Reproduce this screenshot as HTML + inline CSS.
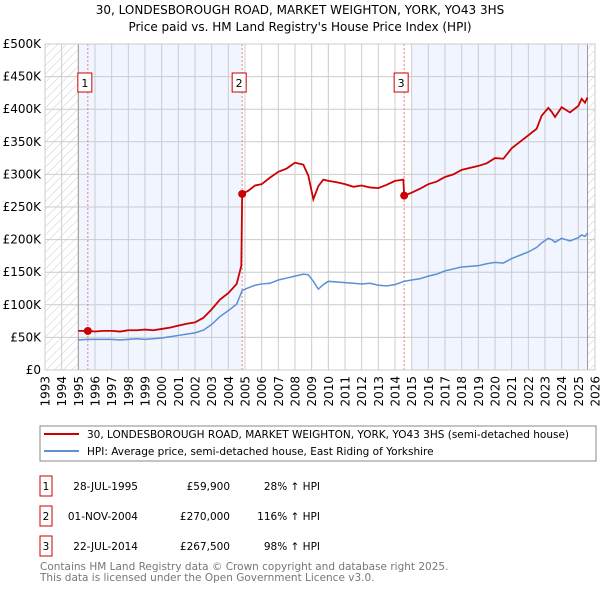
<!DOCTYPE html>
<html><head><meta charset="utf-8">
<style>
body{margin:0;background:#fff;font-family:"DejaVu Sans","Liberation Sans",sans-serif;}
svg text{font-family:"DejaVu Sans","Liberation Sans",sans-serif;}
</style></head>
<body>
<svg width="600" height="590" viewBox="0 0 600 590" xmlns="http://www.w3.org/2000/svg">
<defs>
<pattern id="hatch" width="6" height="6" patternUnits="userSpaceOnUse" patternTransform="rotate(45)">
<line x1="0" y1="0" x2="0" y2="6" stroke="#ccc" stroke-width="1"/>
</pattern>
</defs>
<text x="300" y="14" font-size="12" text-anchor="middle" fill="#000">30, LONDESBOROUGH ROAD, MARKET WEIGHTON, YORK, YO43 3HS</text>
<text x="300" y="31" font-size="12" text-anchor="middle" fill="#000">Price paid vs. HM Land Registry's House Price Index (HPI)</text>
<g id="plot"></g>
<g>
<rect x="40" y="426" width="556" height="35" fill="#fff" stroke="#888"/>
<line x1="44" y1="434" x2="79" y2="434" stroke="#cc0000" stroke-width="2"/>
<text x="87" y="438" font-size="10.5">30, LONDESBOROUGH ROAD, MARKET WEIGHTON, YORK, YO43 3HS (semi-detached house)</text>
<line x1="44" y1="451" x2="79" y2="451" stroke="#5b8fd6" stroke-width="2"/>
<text x="87" y="455" font-size="10.5">HPI: Average price, semi-detached house, East Riding of Yorkshire</text>
</g>
<g font-size="10.5">
<rect x="40" y="476" width="12" height="20" fill="#fff" stroke="#cc0000"/><text x="46" y="490" text-anchor="middle">1</text>
<text x="138" y="490" text-anchor="end">28-JUL-1995</text><text x="230" y="490" text-anchor="end">£59,900</text><text x="320" y="490" text-anchor="end">28% ↑ HPI</text>
<rect x="40" y="506" width="12" height="20" fill="#fff" stroke="#cc0000"/><text x="46" y="520" text-anchor="middle">2</text>
<text x="138" y="520" text-anchor="end">01-NOV-2004</text><text x="230" y="520" text-anchor="end">£270,000</text><text x="320" y="520" text-anchor="end">116% ↑ HPI</text>
<rect x="40" y="536" width="12" height="20" fill="#fff" stroke="#cc0000"/><text x="46" y="550" text-anchor="middle">3</text>
<text x="138" y="550" text-anchor="end">22-JUL-2014</text><text x="230" y="550" text-anchor="end">£267,500</text><text x="320" y="550" text-anchor="end">98% ↑ HPI</text>
</g>
<text x="40" y="570" font-size="10.5" fill="#777">Contains HM Land Registry data © Crown copyright and database right 2025.</text>
<text x="40" y="581" font-size="10.5" fill="#777">This data is licensed under the Open Government Licence v3.0.</text>
</svg>
<script>
const yTicks=[0,50,100,150,200,250,300,350,400,450,500];
const yTickLabels=["£0","£50K","£100K","£150K","£200K","£250K","£300K","£350K","£400K","£450K","£500K"];
const xYears=[1993,1994,1995,1996,1997,1998,1999,2000,2001,2002,2003,2004,2005,2006,2007,2008,2009,2010,2011,2012,2013,2014,2015,2016,2017,2018,2019,2020,2021,2022,2023,2024,2025,2026];
const hpiYears=[1995,1995.5,1996,1996.5,1997,1997.5,1998,1998.5,1999,1999.5,2000,2000.5,2001,2001.5,2002,2002.5,2003,2003.5,2004,2004.5,2004.83,2005.2,2005.6,2006,2006.5,2007,2007.5,2008,2008.5,2008.8,2009.1,2009.4,2009.7,2010,2010.5,2011,2011.5,2012,2012.5,2013,2013.5,2014,2014.55,2015,2015.5,2016,2016.5,2017,2017.5,2018,2018.5,2019,2019.5,2020,2020.5,2021,2021.5,2022,2022.5,2022.8,2023.2,2023.4,2023.6,2024,2024.5,2025,2025.2,2025.4,2025.55];
const hpiVals=[46,47,47,47,47,46,47,48,47,48,49,51,53,55,57,61,70,82,91,101,122,126,130,132,133,138,141,144,147,146,136,124,131,136,135,134,133,132,133,130,129,131,136,138,140,144,147,152,155,158,159,160,163,165,164,171,176,181,188,195,202,200,196,202,198,203,207,205,210];
const redYears=[1995,1995.57,1996,1996.5,1997,1997.5,1998,1998.5,1999,1999.5,2000,2000.5,2001,2001.5,2002,2002.5,2003,2003.5,2004,2004.5,2004.78,2004.83,2005.2,2005.6,2006,2006.5,2007,2007.5,2008,2008.5,2008.8,2009.1,2009.4,2009.7,2010,2010.5,2011,2011.5,2012,2012.5,2013,2013.5,2014,2014.5,2014.55,2015,2015.5,2016,2016.5,2017,2017.5,2018,2018.5,2019,2019.5,2020,2020.5,2021,2021.5,2022,2022.5,2022.8,2023.2,2023.4,2023.6,2024,2024.5,2025,2025.2,2025.4,2025.55];
const redVals=[60,59.9,59,60,60,59,61,61,62,61,63,65,68,71,73,80,93,108,118,132,160,270,275,283,285,295,304,309,318,315,298,262,282,292,290,288,285,281,283,280,279,284,290,292,267.5,272,278,285,289,296,300,307,310,313,317,325,324,340,350,360,370,390,402,396,388,403,395,405,416,410,418];
const sales=[{x:1995.57,v:59.9,n:"1"},{x:2004.83,v:270,n:"2"},{x:2014.55,v:267.5,n:"3"}];
const L=45,R=595,T=44,B=370;
const X=y=>L+(y-1993)*(R-L)/33;
const Y=v=>B-v*(B-T)/500;
const NS="http://www.w3.org/2000/svg";
const g=document.getElementById('plot');
function mk(t,a){const e=document.createElementNS(NS,t);for(const k in a)e.setAttribute(k,a[k]);g.appendChild(e);return e;}
let e;
e=mk('rect',{x:X(1995),y:T,width:X(2004.83)-X(1995),height:B-T,fill:'#f0f5ff'});


e=mk('rect',{x:X(2015),y:T,width:X(2025.55)-X(2015),height:B-T,fill:'#f0f5ff'});


e=mk('rect',{x:L,y:T,width:X(1995)-L,height:B-T,fill:'url(#hatch)'});


e=mk('rect',{x:X(2025.55),y:T,width:R-X(2025.55),height:B-T,fill:'url(#hatch)'});


xYears.forEach(yr=>{
 e=mk('line',{x1:X(yr),y1:T,x2:X(yr),y2:B,stroke:'#ccc','stroke-width':1});
 
 
 e=mk('text',{x:0,y:0,'font-size':12,'text-anchor':'end',transform:`translate(${X(yr)+4.5},${B+6}) rotate(-90)`});
 e.textContent=yr;
 
 
});
yTicks.forEach((v,i)=>{
 e=mk('line',{x1:L,y1:Y(v),x2:R,y2:Y(v),stroke:'#ccc','stroke-width':1});
 
 
 e=mk('text',{x:L-4,y:Y(v)+4,'font-size':12,'text-anchor':'end'});
 e.textContent=yTickLabels[i];
 
 
});
[1995,2025.55].forEach(yr=>{
 e=mk('line',{x1:X(yr),y1:T,x2:X(yr),y2:B,stroke:'#999','stroke-width':1});
 
 
});
sales.forEach(s=>{
 e=mk('line',{x1:X(s.x),y1:T,x2:X(s.x),y2:B,stroke:'#f08080','stroke-width':1,'stroke-dasharray':'2,2'});
 
 
 e=mk('rect',{x:X(s.x)-10,y:73,width:14,height:19,fill:'#fff',stroke:'#cc0000'});
 
 
 e=mk('text',{x:X(s.x)-3,y:87,'font-size':11,'text-anchor':'middle'});
 e.textContent=s.n;
 
 
});
e=mk('polyline',{points:hpiYears.map((y,i)=>X(y)+','+Y(hpiVals[i])).join(' '),fill:'none',stroke:'#5b8fd6','stroke-width':1.5});


e=mk('polyline',{points:redYears.map((y,i)=>X(y)+','+Y(redVals[i])).join(' '),fill:'none',stroke:'#cc0000','stroke-width':1.8});


sales.forEach(s=>{
 e=mk('circle',{cx:X(s.x),cy:Y(s.v),r:4,fill:'#cc0000'});
 
 
});
e=mk('rect',{x:L,y:T,width:R-L,height:B-T,fill:'none',stroke:'#ccc'});


</script>
</body></html>
